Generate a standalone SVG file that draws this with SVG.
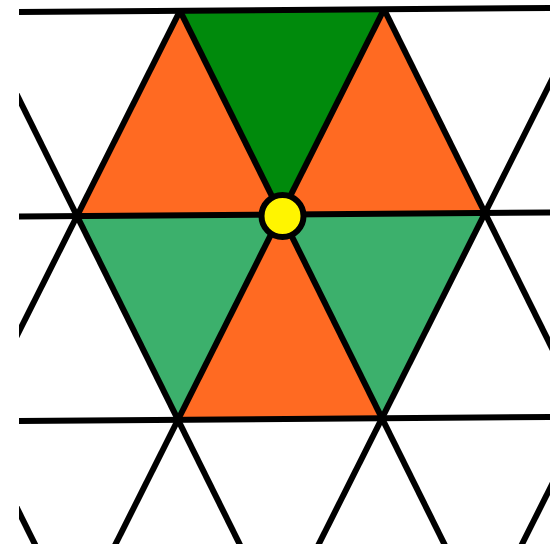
<svg xmlns="http://www.w3.org/2000/svg" width="550" height="544" viewBox="0 0 550 544">
  <defs>
    <clipPath id="frame">
      <rect x="19" y="0" width="531" height="544"/>
    </clipPath>
    <style>
      .orange { fill: #FF6A22; }
      .dark { fill: #008A0C; }
      .mid { fill: #3CB06C; }
      .grid line { stroke: #000; stroke-width: 6; stroke-linecap: butt; }
      .pt { fill: #FFF500; stroke: #000; stroke-width: 6; }
    </style>
  </defs>
  <rect x="0" y="0" width="550" height="544" fill="#fff"/>
  <g clip-path="url(#frame)">
    <g transform="matrix(1 -0.0075 -0.005 1 1.07 2.11)">
      <g id="tiles">
        <polygon id="tile-top" class="dark" points="179,10 383,10 281,214.5"/>
        <polygon id="tile-upper-left" class="orange" points="179,10 77,214.5 281,214.5"/>
        <polygon id="tile-upper-right" class="orange" points="383,10 281,214.5 485,214.5"/>
        <polygon id="tile-lower-left" class="mid" points="77,214.5 281,214.5 179,419"/>
        <polygon id="tile-lower-middle" class="orange" points="281,214.5 179,419 383,419"/>
        <polygon id="tile-lower-right" class="mid" points="281,214.5 485,214.5 383,419"/>
      </g>
      <g id="grid" class="grid">
        <line x1="-10" y1="10" x2="570" y2="10"/>
        <line x1="-10" y1="214.5" x2="570" y2="214.5"/>
        <line x1="-10" y1="419" x2="570" y2="419"/>
        <line x1="-229" y1="10" x2="77" y2="623.5"/>
        <line x1="-25" y1="10" x2="281" y2="623.5"/>
        <line x1="179" y1="10" x2="485" y2="623.5"/>
        <line x1="383" y1="10" x2="689" y2="623.5"/>
        <line x1="179" y1="10" x2="-127" y2="623.5"/>
        <line x1="383" y1="10" x2="77" y2="623.5"/>
        <line x1="587" y1="10" x2="281" y2="623.5"/>
        <line x1="791" y1="10" x2="485" y2="623.5"/>
      </g>
    </g>
  </g>
  <g id="center-point">
    <circle class="pt" cx="282.5" cy="216" r="21"/>
  </g>
</svg>
